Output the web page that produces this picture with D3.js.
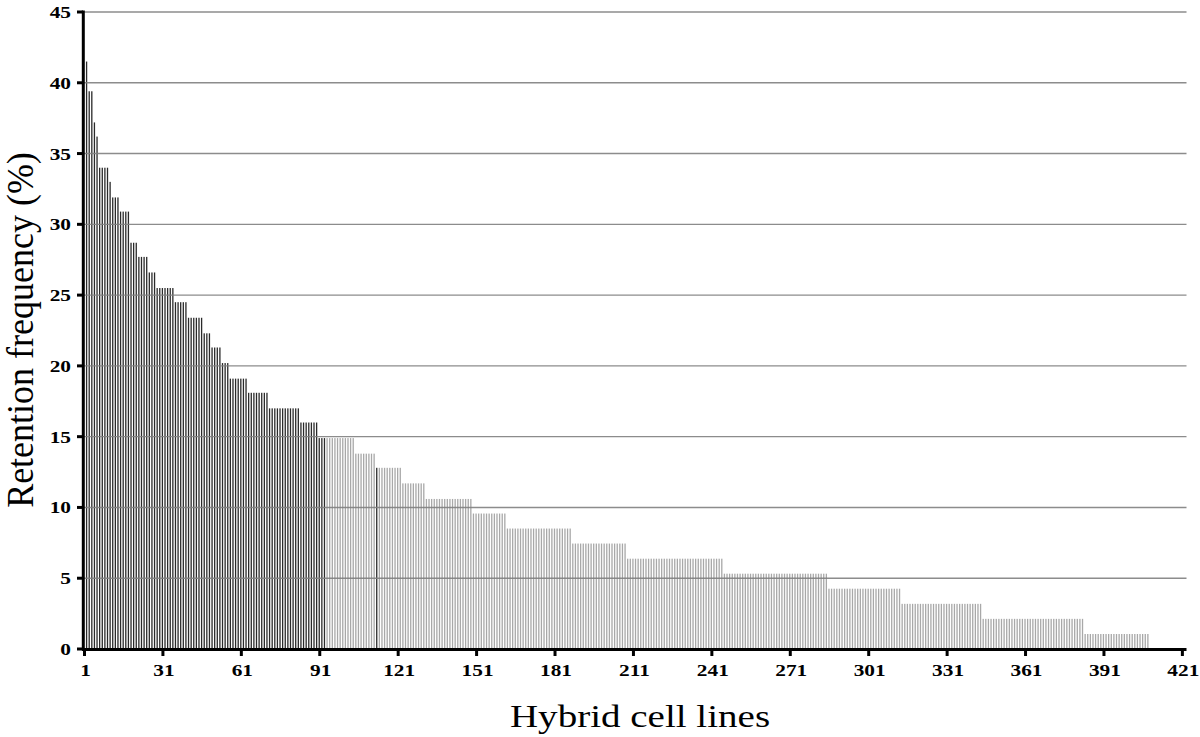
<!DOCTYPE html>
<html><head><meta charset="utf-8">
<script src="https://cdn.jsdelivr.net/npm/d3@7"></script>
<style>body{margin:0;background:#fff} svg{display:block}</style>
</head><body>
<svg id="c" width="1200" height="737"></svg>
<script>
// Retention frequency levels (%) and how many hybrid cell lines sit at each level (sorted descending)
const levelValues = [41.5, 39.4, 37.2, 36.2, 34.0, 33.0, 31.9, 30.9, 28.7, 27.7, 26.6, 25.5, 24.5, 23.4, 22.3, 21.3, 20.2, 19.1, 18.1, 17.0, 16.0, 14.9, 13.8, 12.8, 11.7, 10.6, 9.57, 8.51, 7.45, 6.38, 5.32, 4.26, 3.19, 2.13, 1.06];
const levelCounts = [1, 2, 1, 1, 4, 1, 3, 4, 3, 4, 3, 7, 5, 6, 3, 4, 3, 7, 8, 12, 7, 14, 8, 10, 9, 18, 13, 25, 21, 37, 40, 28, 31, 39, 25];
const darkCount = 92;          // first cell lines drawn dark
const highlightBars = [112];   // single dark line in the light part
const xTickLabels = [1, 31, 61, 91, 121, 151, 181, 211, 241, 271, 301, 331, 361, 391, 421];
const yTickValues = [0, 5, 10, 15, 20, 25, 30, 35, 40, 45];
const xTitle = "Hybrid cell lines";
const yTitle = "Retention frequency (%)";

const bars = [];
levelValues.forEach((v, k) => {
  for (let j = 0; j < levelCounts[k]; j++) bars.push({ id: bars.length + 1, value: v });
});

const svg = d3.select('#c');
const x = d3.scaleBand().domain(d3.range(1, 422)).range([84.5, 84.5 + 421 * 2.614]);
const y = d3.scaleLinear().domain([0, 45]).range([649, 12]);
const bw = x.bandwidth();
const SX = 1.22;
const serif = "'Liberation Serif','Times New Roman',serif";

// bars
svg.append('g').selectAll('rect').data(bars).join('rect')
  .attr('x', d => x(d.id) + bw * 0.55)
  .attr('width', 1.3)
  .attr('y', d => y(d.value))
  .attr('height', d => y(0) - y(d.value))
  .attr('fill', d => (d.id <= darkCount || highlightBars.includes(d.id)) ? '#2a2a2a' : '#a8a8a8');

// gridlines
svg.append('g').selectAll('line').data(yTickValues.filter(v => v > 0)).join('line')
  .attr('x1', 83).attr('x2', 1186.5)
  .attr('y1', d => y(d)).attr('y2', d => y(d))
  .attr('stroke', '#808080').attr('stroke-width', 1.4).attr('stroke-opacity', 0.9);

// y axis
const ya = svg.append('g');
ya.append('line').attr('x1', 83.3).attr('x2', 83.3).attr('y1', y(45) - 1.5).attr('y2', y(0) + 1.5)
  .attr('stroke', '#000').attr('stroke-width', 3);
ya.selectAll('line.t').data(yTickValues).join('line').attr('class', 't')
  .attr('x1', 77).attr('x2', 83).attr('y1', d => y(d)).attr('y2', d => y(d))
  .attr('stroke', '#000').attr('stroke-width', 3);
ya.selectAll('text').data(yTickValues).join('text')
  .attr('transform', d => `translate(71,${y(d) + 6}) scale(${SX},1)`)
  .attr('text-anchor', 'end')
  .attr('font-family', serif).attr('font-weight', 'bold').attr('font-size', 17.5)
  .text(d => d);

// x axis
const xa = svg.append('g');
xa.append('line').attr('x1', 82).attr('x2', 1186.5).attr('y1', 649.5).attr('y2', 649.5)
  .attr('stroke', '#000').attr('stroke-width', 3);
xa.selectAll('line.t').data(xTickLabels).join('line').attr('class', 't')
  .attr('x1', d => x(d)).attr('x2', d => x(d)).attr('y1', 649).attr('y2', 656)
  .attr('stroke', '#000').attr('stroke-width', 3);
xa.selectAll('text').data(xTickLabels).join('text')
  .attr('transform', d => `translate(${x(d) + 1},676) scale(${SX},1)`)
  .attr('text-anchor', 'middle')
  .attr('font-family', serif).attr('font-weight', 'bold').attr('font-size', 17.5)
  .text(d => d);

// titles
svg.append('text')
  .attr('transform', `translate(640,727) scale(${SX},1)`)
  .attr('text-anchor', 'middle')
  .attr('font-family', serif).attr('font-size', 32)
  .text(xTitle);
svg.append('text')
  .attr('transform', `translate(33,330) scale(1.08,1) rotate(-90)`)
  .attr('text-anchor', 'middle')
  .attr('font-family', serif).attr('font-size', 36)
  .text(yTitle);
</script>
</body></html>
